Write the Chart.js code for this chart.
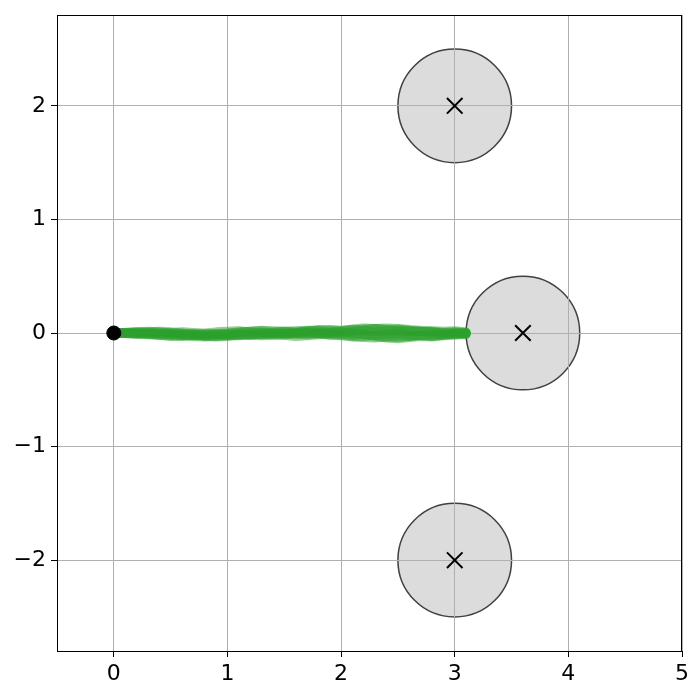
<!DOCTYPE html>
<html lang="en">
  <head>
    <meta charset="UTF-8" />
    <title>Trajectories</title>
    <script src="https://cdn.jsdelivr.net/npm/chart.js"></script>
    <style>
      body {
        margin: 0;
        background-color: #ffffff;
      }
      #wrap {
        width: 700px;
        height: 700px;
      }
    </style>
  </head>
  <body>
    <div id="wrap">
      <canvas id="myChart" width="700" height="700"></canvas>
    </div>
    <script>
      // sample x positions along every path (0 .. 3.1)
      const pathX = [0, 0.1, 0.2, 0.3, 0.4, 0.5, 0.6, 0.7, 0.8, 0.9, 1.0, 1.1, 1.2, 1.3, 1.4, 1.5,
        1.6, 1.7, 1.8, 1.9, 2.0, 2.1, 2.2, 2.3, 2.4, 2.5, 2.6, 2.7, 2.8, 2.9, 3.0, 3.1];

      const pathY = [
        [0, .005, .01, .005, -.005, -.015, -.02, -.015, -.01, -.005, 0, .01, .015, .02, .01, .015, .02, .025, .02, .01, .015, .025, .035, .04, .03, .02, .01, .015, .005, 0, .005, 0],
        [0, -.005, -.01, -.015, -.02, -.025, -.03, -.025, -.02, -.01, -.015, -.005, 0, .005, 0, -.01, -.005, 0, -.01, -.02, -.015, -.03, -.04, -.045, -.035, -.025, -.03, -.02, -.01, -.015, -.005, 0],
        [0, 0, .005, .01, .015, .01, 0, -.01, -.02, -.015, -.02, -.025, -.015, -.005, .005, .01, .005, .015, .025, .03, .025, .03, .02, .01, .015, .025, .02, .01, .015, .005, .01, .005],
        [0, .005, 0, -.01, -.015, -.01, -.02, -.03, -.035, -.03, -.025, -.015, -.02, -.01, -.015, -.02, -.03, -.025, -.015, -.005, -.01, -.02, -.01, -.025, -.035, -.04, -.03, -.02, -.025, -.015, -.01, -.005],
        [0, -.005, 0, .005, 0, -.005, -.01, -.005, 0, .01, .015, .02, .01, 0, -.01, -.005, .005, .01, .005, -.005, 0, .01, .025, .04, .045, .04, .03, .025, .02, .015, .02, .01],
        [0, .005, .01, .015, .01, 0, -.005, -.015, -.025, -.035, -.03, -.02, -.01, -.015, -.005, 0, -.01, -.015, -.005, .005, .01, 0, -.015, -.03, -.045, -.05, -.04, -.03, -.035, -.025, -.02, -.01],
        [0, -.005, -.01, -.005, 0, .005, .01, .005, -.005, -.01, -.005, .005, .015, .025, .02, .015, .01, .02, .03, .025, .02, .035, .045, .04, .03, .035, .025, .015, .01, 0, -.005, 0],
        [0, 0, -.005, -.01, -.02, -.03, -.025, -.02, -.03, -.025, -.015, -.01, -.02, -.025, -.02, -.015, -.005, 0, -.005, -.015, -.025, -.035, -.03, -.02, -.01, -.005, -.015, -.025, -.03, -.02, -.01, -.015],
      ];

      // obstacles: centres and radius
      const obstacleX = [3, 3.6, 3];
      const obstacleY = [2, 0, -2];
      const obstacleR = [0.5, 0.5, 0.5];

      const startPoint = { x: 0, y: 0 };

      const xTicks = [0, 1, 2, 3, 4, 5];
      const yTicks = [-2, -1, 0, 1, 2];

      const datasets = [];

      datasets.push({
        label: "start",
        data: [startPoint],
        showLine: false,
        pointRadius: 7,
        pointBackgroundColor: "#000000",
        pointBorderColor: "#000000",
        order: 0,
      });

      datasets.push({
        label: "centres",
        data: obstacleX.map((x, i) => ({ x: x, y: obstacleY[i] })),
        showLine: false,
        pointStyle: "crossRot",
        pointRadius: 11,
        pointBorderWidth: 2,
        pointBorderColor: "#000000",
        order: 1,
      });

      pathY.forEach((ys, k) => {
        datasets.push({
          label: "path " + k,
          data: pathX.map((x, i) => ({ x: x, y: ys[i] })),
          showLine: true,
          borderColor: "rgba(44, 160, 44, 0.5)",
          borderWidth: 9,
          borderCapStyle: "round",
          borderJoinStyle: "round",
          pointRadius: 0,
          tension: 0,
          order: 2 + k,
        });
      });

      // circles go under the grid, like matplotlib patches
      const obstacles = {
        id: "obstacles",
        beforeDraw(chart) {
          const { ctx, scales: { x, y } } = chart;
          ctx.save();
          obstacleX.forEach((cx, i) => {
            const px = x.getPixelForValue(cx);
            const py = y.getPixelForValue(obstacleY[i]);
            const r = x.getPixelForValue(cx + obstacleR[i]) - px;
            ctx.beginPath();
            ctx.arc(px, py, r, 0, Math.PI * 2);
            ctx.fillStyle = "#dcdcdc";
            ctx.fill();
            ctx.lineWidth = 1.5;
            ctx.strokeStyle = "#404040";
            ctx.stroke();
          });
          ctx.restore();
        },
      };

      const frame = {
        id: "frame",
        afterDraw(chart) {
          const { ctx, chartArea: { left, right, top, bottom } } = chart;
          ctx.save();
          ctx.strokeStyle = "#000000";
          ctx.lineWidth = 1;
          ctx.strokeRect(left + 0.5, top + 0.5, right - left - 1, bottom - top);
          ctx.restore();
        },
      };

      const tickFont = { family: "DejaVu Sans", size: 22 };

      new Chart(document.getElementById("myChart"), {
        type: "scatter",
        data: { datasets: datasets },
        options: {
          responsive: false,
          animation: false,
          layout: { padding: { left: 0, right: 18, top: 15, bottom: 0 } },
          plugins: { legend: { display: false }, tooltip: { enabled: false } },
          scales: {
            x: {
              type: "linear",
              min: -0.5,
              max: 5,
              afterBuildTicks: (axis) => {
                axis.ticks = xTicks.map((v) => ({ value: v }));
              },
              afterFit: (axis) => {
                axis.height = 49;
                axis.paddingLeft = 0;
                axis.paddingRight = 0;
              },
              ticks: {
                color: "#000000",
                font: tickFont,
                padding: 4,
                maxRotation: 0,
                callback: (v) => String(v).replace("-", "\u2212"),
              },
              grid: { color: "#b0b0b0", lineWidth: 1, tickLength: 6, tickColor: "#000000" },
              border: { color: "#000000" },
            },
            y: {
              type: "linear",
              min: -2.8,
              max: 2.8,
              afterBuildTicks: (axis) => {
                axis.ticks = yTicks.map((v) => ({ value: v }));
              },
              afterFit: (axis) => {
                axis.width = 57;
                axis.paddingTop = 0;
                axis.paddingBottom = 0;
              },
              ticks: {
                color: "#000000",
                font: tickFont,
                padding: 5,
                callback: (v) => String(v).replace("-", "\u2212"),
              },
              grid: { color: "#b0b0b0", lineWidth: 1, tickLength: 6, tickColor: "#000000" },
              border: { color: "#000000" },
            },
          },
        },
        plugins: [obstacles, frame],
      });
    </script>
  </body>
</html>
